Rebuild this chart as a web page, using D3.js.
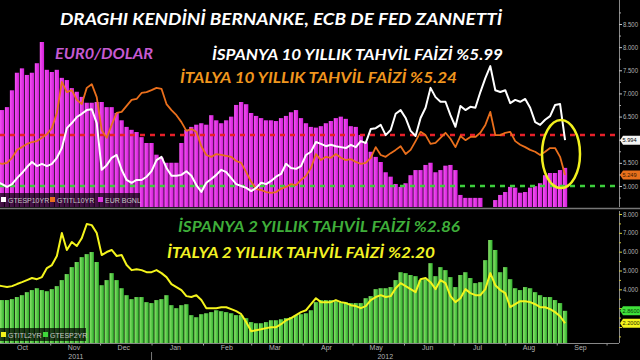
<!DOCTYPE html>
<html>
<head>
<meta charset="utf-8">
<script src="https://cdn.jsdelivr.net/npm/d3@7"></script>
<style>
  html, body { margin: 0; padding: 0; background: #000; }
  svg { display: block; }
</style>
</head>
<body>
<div id="chart"></div>
<script>
// Euro, Spain and Italy yields, Oct 2011 - Sep 2012 (one reading every 3 days)
var startDate = new Date(2011, 8, 30);
var stepDays = 3;

var eurUsd = [1.324,1.327,1.331,1.354,1.378,1.384,1.375,1.378,1.391,1.420,
  1.382,1.379,1.382,1.371,1.368,1.357,1.352,1.345,1.337,1.337,
  1.338,1.338,1.331,1.331,1.323,1.313,1.304,1.300,1.297,1.290,
  1.282,1.282,1.266,1.262,1.255,1.255,1.255,1.282,1.300,1.304,
  1.307,1.309,1.307,1.320,1.313,1.309,1.313,1.318,1.334,1.338,
  1.335,1.323,1.319,1.316,1.313,1.313,1.312,1.316,1.319,1.324,
  1.327,1.316,1.309,1.304,1.303,1.305,1.309,1.312,1.316,1.318,
  1.315,1.305,1.304,1.293,1.283,1.270,1.263,1.256,1.242,1.236,
  1.226,1.222,1.227,1.238,1.245,1.245,1.252,1.255,1.242,1.245,
  1.251,1.252,1.245,1.211,1.207,1.207,1.207,1.207,null,null,
  1.204,1.211,1.215,1.222,1.221,1.214,1.215,1.221,1.223,1.227,
  1.238,1.241,1.241,1.245,1.248];

var spain10 = [5.09,5.04,4.98,5.04,5.17,5.28,5.41,5.52,5.43,5.48,
  5.43,5.48,5.61,5.82,6.25,6.36,6.49,6.56,6.64,6.66,
  6.36,5.35,5.45,5.61,5.67,5.35,5.13,5.07,5.13,5.13,
  5.20,5.32,5.56,5.63,5.39,5.22,5.22,5.24,5.32,5.22,
  5.02,4.87,5.07,5.15,5.24,5.35,5.30,5.17,5.04,5.00,
  4.96,4.89,4.96,5.07,5.04,5.11,5.20,5.26,5.48,5.39,
  5.37,5.43,5.67,5.74,5.95,5.91,5.86,5.89,5.86,5.84,
  5.82,5.89,5.84,5.97,5.93,6.23,6.25,6.32,6.10,6.21,
  6.56,6.64,6.47,6.19,6.08,6.47,6.69,7.12,6.92,6.82,
  6.82,6.53,6.28,6.73,6.64,6.71,6.69,7.03,7.33,7.59,
  7.07,7.03,7.07,6.79,6.86,6.82,6.88,6.69,6.38,6.32,
  6.43,6.51,6.75,6.77,5.99];

var italy10 = [5.50,5.48,5.50,5.61,5.78,5.84,5.91,5.95,5.97,6.04,
  6.12,6.25,6.58,7.25,7.03,7.07,6.86,6.77,7.12,7.20,
  6.92,6.21,6.04,6.32,6.58,6.60,6.73,6.86,6.88,7.01,
  7.03,7.07,7.12,7.10,6.77,6.64,6.53,6.38,6.19,6.23,
  6.17,5.86,5.67,5.63,5.69,5.67,5.65,5.63,5.54,5.50,
  5.30,5.09,4.94,4.91,4.87,4.85,4.87,4.94,4.98,5.04,
  5.02,5.13,5.22,5.39,5.69,5.56,5.63,5.61,5.69,5.61,
  5.56,5.58,5.52,5.48,5.50,5.61,5.84,5.67,5.63,5.71,
  5.78,5.86,5.69,5.78,5.97,6.17,6.10,5.91,5.93,6.04,
  6.15,6.02,5.84,6.08,5.99,6.06,6.06,6.15,6.32,6.60,
  6.10,6.10,6.15,6.17,5.97,5.89,5.84,5.78,5.74,5.67,
  5.74,5.82,5.82,5.63,5.24];

var italy2 = [4.22,4.17,4.12,4.17,4.28,4.38,4.49,4.60,4.54,4.65,
  5.13,5.29,5.77,6.99,6.09,6.51,6.30,6.72,7.47,7.41,
  6.99,5.82,5.98,6.09,5.77,5.82,5.29,5.02,5.07,5.02,
  4.91,4.91,5.02,4.86,4.65,4.28,4.12,3.96,3.64,3.59,
  3.69,3.43,3.00,3.00,3.00,3.05,3.05,2.95,2.84,2.68,
  2.26,1.78,1.83,1.88,1.94,1.99,1.99,2.15,2.36,2.47,
  2.63,2.79,2.89,3.21,3.53,3.32,3.32,3.32,3.43,3.32,
  3.27,3.16,3.11,3.00,3.11,3.43,3.59,3.69,3.59,3.64,
  4.06,4.33,4.17,4.01,3.85,4.54,4.60,4.38,4.01,4.49,
  4.33,3.64,3.32,3.53,4.01,3.80,3.69,3.69,4.01,4.86,
  4.22,3.96,3.80,3.05,3.21,3.37,3.37,3.32,3.21,3.05,
  3.05,2.95,2.79,2.57,2.20];

var spain2 = [3.43,3.43,3.43,3.48,3.59,3.69,3.85,3.96,4.06,3.96,
  3.90,4.01,4.17,4.49,4.81,5.18,5.45,5.71,5.87,5.98,
  5.45,4.22,4.49,4.86,4.49,4.06,3.69,3.48,3.59,3.59,
  3.32,3.27,3.43,3.48,3.69,3.16,3.00,3.16,3.21,2.63,
  2.52,2.68,2.73,2.79,2.89,2.84,2.79,2.73,2.63,2.63,
  2.47,2.26,2.20,2.20,2.26,2.36,2.36,2.41,2.47,2.52,
  2.63,2.68,2.73,2.89,3.32,3.43,3.43,3.43,3.37,3.32,
  3.32,3.27,3.27,3.27,3.53,3.64,4.01,4.06,4.06,4.12,
  4.49,4.91,4.86,4.76,4.70,4.49,4.54,5.39,4.70,5.18,
  5.02,4.65,4.12,4.76,4.91,4.60,4.33,4.38,5.55,6.62,
  6.09,4.91,5.18,4.54,4.06,3.96,4.12,4.06,3.85,3.69,
  3.59,3.59,3.43,3.27,2.86];

var monthLabels = ["Oct","Nov","Dec","Jan","Feb","Mar","Apr","May","Jun","Jul","Aug","Sep"];
var yearLabels = ["2011","2012"];
var topTicks = [5.0,5.5,6.0,6.5,7.0,7.5,8.0,8.5];
var topHidden = [6.0];          // covered by the last-value tag
var topMinor = [4.75,5.25,5.75,6.25,6.75,7.25,7.75,8.25,8.75];
var bottomTicks = [2,3,4,5,6,7,8];
var bottomHidden = [2, 3];
var bottomMinor = [1.5,2.5,3.5,4.5,5.5,6.5,7.5];
var redLevel = 6.1, greenLevel = 5.0;
var lastSpain10 = "5.994", lastItaly10 = "5.249", lastSpain2 = "2.8600", lastItaly2 = "2.2000";

var W = 640, H = 360;
var axisX = 619;
var topY0 = 0, topY1 = 207;
var botY0 = 211, botY1 = 343;

var svg = d3.select("#chart").append("svg")
  .attr("width", W).attr("height", H)
  .style("background", "#000");

var dates = eurUsd.map(function(d, i) { return d3.timeDay.offset(startDate, i * stepDays); });
var rows = dates.map(function(d, i) {
  return {date: d, eur: eurUsd[i], es10: spain10[i], it10: italy10[i], it2: italy2[i], es2: spain2[i]};
});

var x = d3.scaleTime().domain([new Date(2011, 9, 15), new Date(2012, 8, 15)]).range([22, 580]);
var yTop = d3.scaleLinear().domain([5, 8.5]).range([186, 24]);
var yEur = d3.scaleLinear().domain([1.2, 1.42]).range([203, 42]);
var yBot = d3.scaleLinear().domain([2, 8]).range([327, 214]);

var defs = svg.append("defs");
defs.append("clipPath").attr("id", "clipTop").append("rect")
  .attr("x", 0).attr("y", topY0).attr("width", axisX).attr("height", topY1 - topY0);
defs.append("clipPath").attr("id", "clipBot").append("rect")
  .attr("x", 0).attr("y", botY0).attr("width", axisX).attr("height", botY1 - botY0);

var gMag = defs.append("linearGradient").attr("id", "magGrad").attr("x1", 0).attr("x2", 1).attr("y1", 0).attr("y2", 0);
gMag.append("stop").attr("offset", "0%").attr("stop-color", "#f255f2");
gMag.append("stop").attr("offset", "100%").attr("stop-color", "#d31ad8");
var gGreen = defs.append("linearGradient").attr("id", "greenGrad").attr("x1", 0).attr("x2", 1).attr("y1", 0).attr("y2", 0);
gGreen.append("stop").attr("offset", "0%").attr("stop-color", "#8ae46a");
gGreen.append("stop").attr("offset", "100%").attr("stop-color", "#2fb02c");

var barW = 4.3;

// ---- top panel
var gTop = svg.append("g").attr("clip-path", "url(#clipTop)");

gTop.selectAll("rect.eur")
  .data(rows.filter(function(d) { return d.eur != null; }))
  .enter().append("rect")
  .attr("class", "eur")
  .attr("x", function(d) { return x(d.date) - barW / 2; })
  .attr("y", function(d) { return yEur(d.eur); })
  .attr("width", barW)
  .attr("height", function(d) { return topY1 - yEur(d.eur); })
  .attr("fill", "url(#magGrad)");

gTop.append("line")
  .attr("x1", 0).attr("x2", 617)
  .attr("y1", yTop(redLevel)).attr("y2", yTop(redLevel))
  .attr("stroke", "#e8202a").attr("stroke-width", 2.5).attr("stroke-dasharray", "5,5");
gTop.append("line")
  .attr("x1", 0).attr("x2", 617)
  .attr("y1", yTop(greenLevel)).attr("y2", yTop(greenLevel))
  .attr("stroke", "#3ccf3c").attr("stroke-width", 2.5).attr("stroke-dasharray", "5,5");

var lineTop = function(key) {
  return d3.line().x(function(d) { return x(d.date); }).y(function(d) { return yTop(d[key]); });
};
gTop.append("path").datum(rows).attr("d", lineTop("it10"))
  .attr("fill", "none").attr("stroke", "#ea6f1c").attr("stroke-width", 1.8).attr("stroke-linejoin", "round");
gTop.append("path").datum(rows).attr("d", lineTop("es10"))
  .attr("fill", "none").attr("stroke", "#ffffff").attr("stroke-width", 2).attr("stroke-linejoin", "round");

gTop.append("ellipse")
  .attr("cx", 561).attr("cy", 154).attr("rx", 19).attr("ry", 34)
  .attr("fill", "none").attr("stroke", "#f2f01e").attr("stroke-width", 2.5);

// legend top
var legTop = svg.append("g");
legTop.append("rect").attr("x", 0).attr("y", 193).attr("width", 140).attr("height", 14)
  .attr("fill", "#000").attr("opacity", 0.7);
[["#ffffff", "GTESP10YR", 1], ["#ea6f1c", "GTITL10YR", 50], ["#e033e3", "EUR BGNL", 98]].forEach(function(it) {
  legTop.append("rect").attr("x", it[2]).attr("y", 197).attr("width", 5).attr("height", 5).attr("fill", it[0]);
  legTop.append("text").attr("x", it[2] + 7).attr("y", 203).text(it[1])
    .attr("fill", "#c8c8c8").attr("font-size", 7).attr("font-family", "Liberation Sans, Arial, sans-serif");
});

// ---- bottom panel
var gBot = svg.append("g").attr("clip-path", "url(#clipBot)");
gBot.selectAll("rect.es2")
  .data(rows)
  .enter().append("rect")
  .attr("class", "es2")
  .attr("x", function(d) { return x(d.date) - barW / 2; })
  .attr("y", function(d) { return yBot(d.es2); })
  .attr("width", barW)
  .attr("height", function(d) { return botY1 - yBot(d.es2); })
  .attr("fill", "url(#greenGrad)");

gBot.append("path").datum(rows)
  .attr("d", d3.line().x(function(d) { return x(d.date); }).y(function(d) { return yBot(d.it2); }))
  .attr("fill", "none").attr("stroke", "#f4f41c").attr("stroke-width", 2).attr("stroke-linejoin", "round");

var legBot = svg.append("g");
legBot.append("rect").attr("x", 0).attr("y", 328).attr("width", 86).attr("height", 13)
  .attr("fill", "#000").attr("opacity", 0.7);
[["#f4f41c", "GTITL2YR", 1], ["#3fd83a", "GTESP2YR", 43]].forEach(function(it) {
  legBot.append("rect").attr("x", it[2]).attr("y", 332).attr("width", 5).attr("height", 5).attr("fill", it[0]);
  legBot.append("text").attr("x", it[2] + 7).attr("y", 338).text(it[1])
    .attr("fill", "#c8c8c8").attr("font-size", 7).attr("font-family", "Liberation Sans, Arial, sans-serif");
});

// ---- frame lines
svg.append("line").attr("x1", 0).attr("x2", W).attr("y1", 208.5).attr("y2", 208.5)
  .attr("stroke", "#777").attr("stroke-width", 1.5);
svg.append("line").attr("x1", 0).attr("x2", axisX).attr("y1", botY1 + 0.5).attr("y2", botY1 + 0.5)
  .attr("stroke", "#888").attr("stroke-width", 1);

// ---- right axes
var axFont = "Liberation Sans Narrow, Liberation Sans, Arial, sans-serif";
var f3 = d3.format(".3f");
function styleAxis(g, tickColor) {
  g.select(".domain").attr("stroke", "#8a8a8a");
  g.selectAll(".tick line").attr("stroke", tickColor);
  g.selectAll(".tick text").attr("fill", "#b4b4b4").attr("font-size", 6.5).attr("font-family", axFont)
    .attr("textLength", 15).attr("lengthAdjust", "spacingAndGlyphs");
}
var yTopAxis = svg.append("g").attr("transform", "translate(" + axisX + ",0)")
  .call(d3.axisRight(yTop).tickValues(topTicks).tickSize(3).tickPadding(1)
    .tickFormat(function(d) { return topHidden.indexOf(d) >= 0 ? "" : f3(d); }));
yTopAxis.select(".domain").attr("d", "M0.5," + topY0 + "V" + topY1);
styleAxis(yTopAxis, "#c8c8c8");
var yTopMinor = svg.append("g").attr("transform", "translate(" + axisX + ",0)")
  .call(d3.axisRight(yTop).tickValues(topMinor).tickFormat("").tickSize(2));
yTopMinor.select(".domain").remove();
yTopMinor.selectAll(".tick line").attr("stroke", "#aaa");

var yBotAxis = svg.append("g").attr("transform", "translate(" + axisX + ",0)")
  .call(d3.axisRight(yBot).tickValues(bottomTicks).tickSize(3).tickPadding(1)
    .tickFormat(function(d) { return bottomHidden.indexOf(d) >= 0 ? "" : f3(d); }));
yBotAxis.select(".domain").attr("d", "M0.5," + botY0 + "V" + botY1);
styleAxis(yBotAxis, "#d6cf3a");
var yBotMinor = svg.append("g").attr("transform", "translate(" + axisX + ",0)")
  .call(d3.axisRight(yBot).tickValues(bottomMinor).tickFormat("").tickSize(2));
yBotMinor.select(".domain").remove();
yBotMinor.selectAll(".tick line").attr("stroke", "#c8c040");

// value tags on the right axis
function tag(yv, fill, label, txt) {
  var g = svg.append("g").attr("transform", "translate(" + (axisX + 1) + "," + yv + ")");
  g.append("path").attr("d", "M0,0 L3,-4.5 L21,-4.5 L21,4.5 L3,4.5 Z").attr("fill", fill);
  g.append("text").attr("x", 2.5).attr("y", 2.2).text(label)
    .attr("fill", txt).attr("font-size", 5.6).attr("font-family", axFont);
}
tag(yTop(spain10[spain10.length - 1]), "#f4f4f4", lastSpain10, "#000");
tag(yTop(italy10[italy10.length - 1]), "#e8701c", lastItaly10, "#3a1a00");
tag(yBot(spain2[spain2.length - 1]), "#3fe03a", lastSpain2, "#063a06");
tag(yBot(italy2[italy2.length - 1]), "#f4f41c", lastItaly2, "#2a2a00");

// ---- x axis
var monthStarts = d3.timeMonth.range(new Date(2011, 9, 1), new Date(2012, 9, 2));
var xTicks = svg.append("g").attr("transform", "translate(0," + (botY1 + 0.5) + ")")
  .call(d3.axisBottom(x).tickValues(monthStarts).tickFormat("").tickSize(2));
xTicks.select(".domain").remove();
xTicks.selectAll(".tick line").attr("stroke", "#999");

var midMonths = monthLabels.map(function(m, i) { return new Date(2011, 9 + i, 15); });
var xLabels = svg.append("g").attr("transform", "translate(0," + (botY1 + 1) + ")")
  .call(d3.axisBottom(x).tickValues(midMonths).tickSize(0).tickPadding(1)
    .tickFormat(function(d, i) { return monthLabels[i]; }));
xLabels.select(".domain").remove();
xLabels.selectAll(".tick text").attr("fill", "#b4b4b4").attr("font-size", 7).attr("font-family", axFont);

var yearSplit = x(new Date(2012, 0, 1));
var yearCenters = [(Math.max(0, x(new Date(2011, 9, 1))) + yearSplit) / 2, (yearSplit + axisX) / 2];
svg.selectAll("text.year").data(yearLabels).enter().append("text")
  .attr("class", "year")
  .attr("x", function(d, i) { return yearCenters[i]; })
  .attr("y", 359)
  .attr("text-anchor", "middle")
  .attr("fill", "#b4b4b4").attr("font-size", 7).attr("font-family", axFont)
  .text(function(d) { return d; });
svg.append("line").attr("x1", yearSplit).attr("x2", yearSplit).attr("y1", 352).attr("y2", 360)
  .attr("stroke", "#777");

// ---- annotations
var titleFont = "Lato, 'Open Sans', sans-serif";
var notes = [
  {t: "DRAGHI KENDİNİ BERNANKE, ECB DE FED ZANNETTİ", x: 60, y: 25, w: 442, s: 17, c: "#ffffff"},
  {t: "EUR0/DOLAR", x: 55, y: 59, w: 98, s: 15, c: "#c65ad2"},
  {t: "İSPANYA 10 YILLIK TAHVİL FAİZİ %5.99", x: 212, y: 60, w: 291, s: 15, c: "#ffffff"},
  {t: "İTALYA 10 YILLIK TAHVİL FAİZİ %5.24", x: 180, y: 83, w: 277, s: 15, c: "#f0961e"},
  {t: "İSPANYA 2 YILLIK TAHVİL FAİZİ %2.86", x: 178, y: 232, w: 282, s: 15, c: "#3fae3a"},
  {t: "İTALYA 2 YILLIK TAHVİL FAİZİ %2.20", x: 167, y: 258, w: 268, s: 15, c: "#f2f224"}
];
svg.selectAll("text.note").data(notes).enter().append("text")
  .attr("class", "note")
  .attr("x", function(d) { return d.x; })
  .attr("y", function(d) { return d.y; })
  .attr("textLength", function(d) { return d.w; })
  .attr("lengthAdjust", "spacingAndGlyphs")
  .attr("fill", function(d) { return d.c; })
  .attr("font-size", function(d) { return d.s; })
  .attr("font-weight", "bold")
  .attr("font-style", "italic")
  .attr("font-family", titleFont)
  .text(function(d) { return d.t; });
</script>
</body>
</html>
